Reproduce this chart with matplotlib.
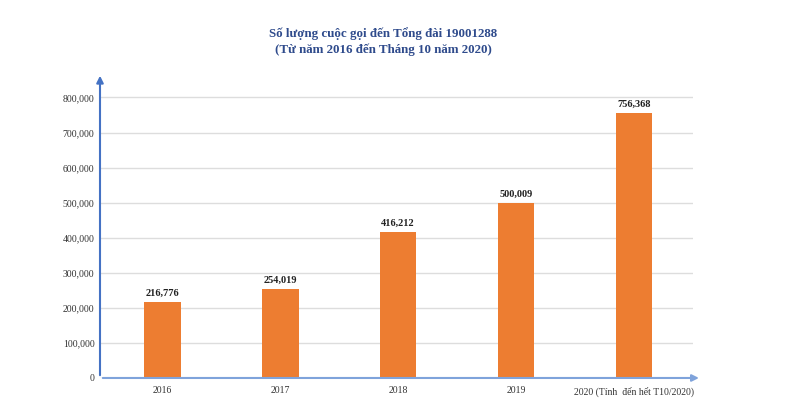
import matplotlib
matplotlib.use("Agg")
import matplotlib.pyplot as plt

categories = ["2016", "2017", "2018", "2019", "2020 (Tính  đến hết T10/2020)"]
values = [216776, 254019, 416212, 500009, 756368]
value_labels = ["216,776", "254,019", "416,212", "500,009", "756,368"]
yticks = [0, 100000, 200000, 300000, 400000, 500000, 600000, 700000, 800000]
ytick_labels = ["0", "100,000", "200,000", "300,000", "400,000", "500,000", "600,000", "700,000", "800,000"]
title = "Số lượng cuộc gọi đến Tổng đài 19001288\n(Từ năm 2016 đến Tháng 10 năm 2020)"

plt.rcParams['font.family'] = ['Liberation Serif', 'DejaVu Serif']

fig = plt.figure(figsize=(8, 4.15), dpi=100)
ax = fig.add_axes([0.125, 0.0892, 0.741, 0.735])

x = list(range(len(categories)))
ax.bar(x, values, width=0.31, color="#ED7D31", zorder=3)
for xi, v, lab in zip(x, values, value_labels):
    ax.text(xi, v + 12000, lab, ha="center", va="bottom", fontsize=7.5, fontweight="bold", color="#222222")

ax.set_xlim(-0.53, len(categories) - 0.5)
ax.set_ylim(0, 870000)
ax.set_yticks(yticks)
ax.set_yticklabels(ytick_labels, fontsize=7, color="#333333")
ax.set_xticks(x)
ax.set_xticklabels(categories, fontsize=7, color="#333333")
ax.tick_params(axis="y", length=0, pad=4)
ax.tick_params(axis="x", length=0, pad=6)
ax.grid(axis="y", color="#DDDDDD", linewidth=1, zorder=0)
ax.set_axisbelow(True)
for s in ["top", "right", "left", "bottom"]:
    ax.spines[s].set_visible(False)

# axes with arrows
ax.annotate("", xy=(0, 1.0), xytext=(0, 0), xycoords="axes fraction",
            arrowprops=dict(arrowstyle="-|>", color="#4472C4", lw=1.5, mutation_scale=10))
ax.annotate("", xy=(1.015, 0), xytext=(0, 0), xycoords="axes fraction",
            arrowprops=dict(arrowstyle="-|>", color="#7FA3DB", lw=1.5, mutation_scale=10))

fig.text(0.479, 0.9, title, ha="center", va="center", fontsize=9.4, fontweight="bold",
         color="#2F4B8C", linespacing=1.4)

fig.savefig("out.png", dpi=100)
